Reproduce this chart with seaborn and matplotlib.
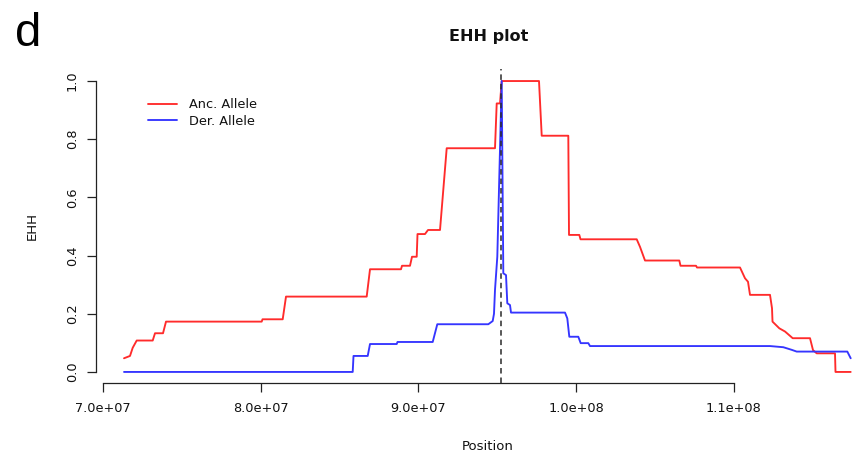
import numpy as np
import pandas as pd
import matplotlib
matplotlib.use("Agg")
import matplotlib.pyplot as plt
import seaborn as sns

# EHH decay around the core SNP, ancestral allele
anc_position = [7.1332e7, 7.1712e7, 7.1883e7, 7.2137e7, 7.3152e7, 7.3297e7, 7.3805e7, 7.3995e7,
                8.0063e7, 8.0114e7, 8.1395e7, 8.1604e7, 8.6721e7, 8.6931e7, 8.8896e7, 8.8960e7,
                8.9467e7, 8.9594e7, 8.9892e7, 8.9943e7, 9.0418e7, 9.0609e7, 9.1370e7, 9.1794e7,
                9.4857e7, 9.4965e7, 9.5174e7, 9.5282e7, 9.7647e7, 9.7819e7, 9.9505e7, 9.9550e7,
                1.00203e8, 1.00279e8, 1.03843e8, 1.04052e8, 1.04369e8, 1.06544e8, 1.06620e8,
                1.07603e8, 1.07667e8, 1.10393e8, 1.10710e8, 1.10900e8, 1.11027e8, 1.12295e8,
                1.12422e8, 1.12454e8, 1.12885e8, 1.13246e8, 1.13734e8, 1.14832e8, 1.15022e8,
                1.15256e8, 1.16417e8, 1.16448e8, 1.17412e8]
anc_ehh = [0.047, 0.055, 0.083, 0.108, 0.108, 0.133, 0.133, 0.173,
           0.173, 0.181, 0.181, 0.259, 0.259, 0.353, 0.353, 0.365,
           0.365, 0.396, 0.396, 0.474, 0.474, 0.488, 0.488, 0.769,
           0.769, 0.923, 0.923, 1.0, 1.0, 0.812, 0.812, 0.471,
           0.471, 0.456, 0.456, 0.43, 0.383, 0.383, 0.365,
           0.365, 0.359, 0.359, 0.322, 0.31, 0.265, 0.265,
           0.219, 0.173, 0.150, 0.139, 0.116, 0.116, 0.075,
           0.064, 0.064, 0.0, 0.0]

# EHH decay around the core SNP, derived allele
der_position = [7.1332e7, 8.5834e7, 8.5885e7, 8.6785e7, 8.6931e7, 8.8624e7, 8.8675e7, 9.0907e7,
                9.1198e7, 9.4432e7, 9.4711e7, 9.4793e7, 9.4857e7, 9.5003e7, 9.5282e7, 9.5384e7,
                9.5555e7, 9.5637e7, 9.5808e7, 9.5872e7, 9.9296e7, 9.9442e7, 9.9569e7, 1.00139e8,
                1.00291e8, 1.00774e8, 1.00881e8, 1.12295e8, 1.13139e8, 1.13671e8, 1.13988e8,
                1.17197e8, 1.17412e8]
der_ehh = [0.0, 0.0, 0.055, 0.055, 0.096, 0.096, 0.103, 0.103,
           0.164, 0.164, 0.175, 0.20, 0.282, 0.396, 1.0, 0.339,
           0.333, 0.236, 0.230, 0.204, 0.204, 0.184, 0.121, 0.121,
           0.099, 0.099, 0.089, 0.089, 0.085, 0.076, 0.070,
           0.070, 0.047]

allele_labels = ["Anc. Allele", "Der. Allele"]
allele_colors = ["#ff2b2b", "#3535ff"]
core_position = 9.5265e7

x_ticks = [7.0e7, 8.0e7, 9.0e7, 1.0e8, 1.1e8]
x_tick_labels = ["7.0e+07", "8.0e+07", "9.0e+07", "1.0e+08", "1.1e+08"]
y_ticks = [0.0, 0.2, 0.4, 0.6, 0.8, 1.0]
y_tick_labels = ["0.0", "0.2", "0.4", "0.6", "0.8", "1.0"]

df = pd.concat([
    pd.DataFrame({"Position": anc_position, "EHH": anc_ehh, "allele": allele_labels[0]}),
    pd.DataFrame({"Position": der_position, "EHH": der_ehh, "allele": allele_labels[1]}),
], ignore_index=True)

sns.set_style("ticks")
plt.rcParams["font.family"] = ["DejaVu Sans"]
plt.rcParams["text.color"] = "#111111"
plt.rcParams["xtick.color"] = "#111111"
plt.rcParams["ytick.color"] = "#111111"
plt.rcParams["xtick.labelcolor"] = "#111111"
plt.rcParams["ytick.labelcolor"] = "#111111"

W, H = 854, 455
fig = plt.figure(figsize=(W / 100, H / 100), dpi=100)
# plot region in pixels: left 96, right 880 (runs past the figure edge), top 69.4, bottom 383
ax = fig.add_axes([96 / W, (H - 383) / H, (880 - 96) / W, (383 - 69.4) / H])

sns.lineplot(data=df, x="Position", y="EHH", hue="allele", palette=allele_colors,
             estimator=None, sort=False, linewidth=1.35, ax=ax)

ax.axvline(core_position, color="#2a2a2a", linewidth=1.1, linestyle=(0, (3.6, 2.6)), zorder=3)

ax.set_xlim(6.9556e7, 1.1927e8)
ax.set_ylim(-0.038, 1.04)

ax.set_xticks(x_ticks)
ax.set_xticklabels(x_tick_labels, fontsize=9.3)
ax.set_yticks(y_ticks)
ax.set_yticklabels(y_tick_labels, fontsize=9.3, rotation=90, va="center")
ax.tick_params(axis="both", direction="out", length=6.5, width=0.9, color="#222222")
ax.tick_params(axis="x", pad=7)
ax.tick_params(axis="y", pad=6)

for side in ("top", "right"):
    ax.spines[side].set_visible(False)
ax.spines["left"].set_bounds(0, 1)
ax.spines["bottom"].set_bounds(x_ticks[0], x_ticks[-1])
for side in ("left", "bottom"):
    ax.spines[side].set_linewidth(0.9)
    ax.spines[side].set_color("#222222")

ax.set_xlabel("")
ax.set_ylabel("")
fig.text(488 / W, 1 - 446 / H, "Position", ha="center", va="center", fontsize=9.5)
fig.text(32 / W, 1 - 226 / H, "EHH", ha="center", va="center", rotation=90, fontsize=9.5)
fig.text(489 / W, 1 - 36 / H, "EHH plot", ha="center", va="center", fontsize=11.5,
         fontweight="bold")
fig.text(15 / W, 1 - 34 / H, "d", ha="left", va="center", fontsize=34,
         family=["Liberation Sans", "DejaVu Sans"], color="black")

handles, labels = ax.get_legend_handles_labels()
ax.legend(handles, labels, loc="upper left", bbox_to_anchor=(148 / W, 1 - 98.5 / H),
          bbox_transform=fig.transFigure, frameon=False, fontsize=9.3,
          handlelength=2.25, handletextpad=0.9, labelspacing=0.25,
          borderpad=0, borderaxespad=0)

fig.savefig("out.png", dpi=100)
